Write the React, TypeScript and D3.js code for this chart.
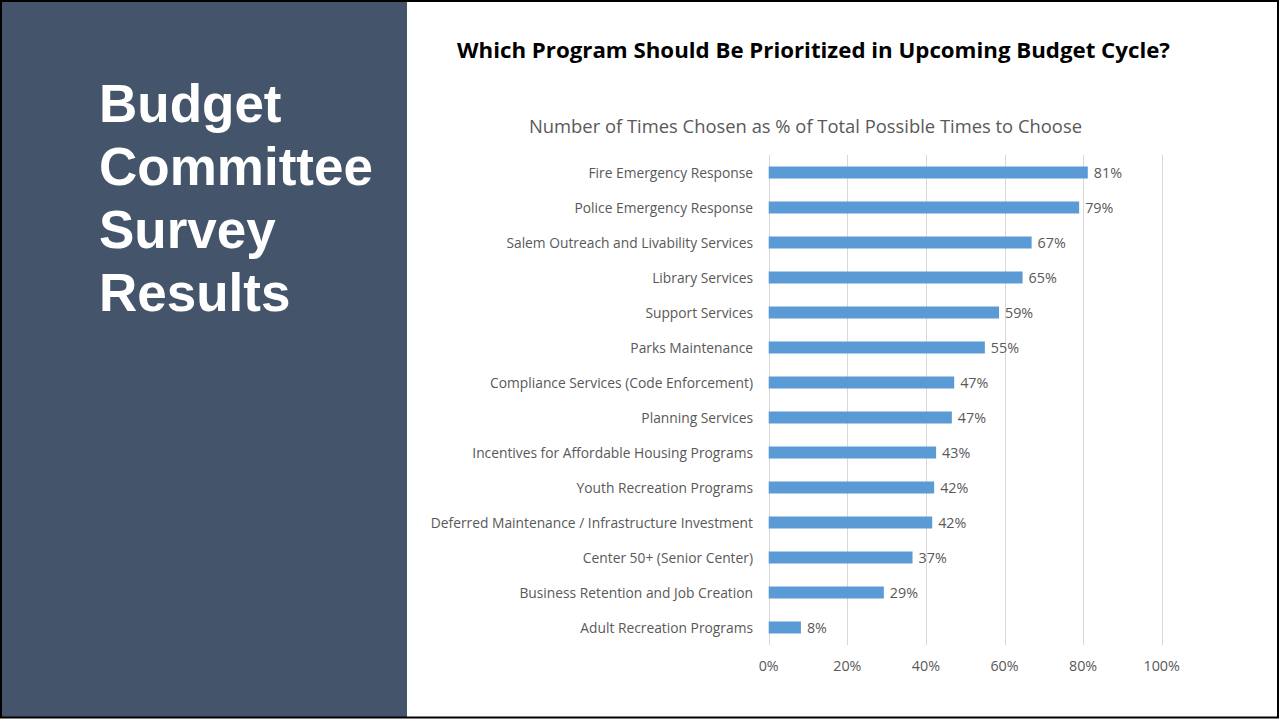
import React from "react";
import * as d3 from "d3";

const categories = [
  "Fire Emergency Response",
  "Police Emergency Response",
  "Salem Outreach and Livability Services",
  "Library Services",
  "Support Services",
  "Parks Maintenance",
  "Compliance Services (Code Enforcement)",
  "Planning Services",
  "Incentives for Affordable Housing Programs",
  "Youth Recreation Programs",
  "Deferred Maintenance / Infrastructure Investment",
  "Center 50+ (Senior Center)",
  "Business Retention and Job Creation",
  "Adult Recreation Programs",
];
const values = [0.812, 0.79, 0.669, 0.646, 0.586, 0.55, 0.472, 0.466, 0.426, 0.421, 0.416, 0.366, 0.293, 0.082];
const xTicks = [0, 0.2, 0.4, 0.6, 0.8, 1.0];
const titleLines = ["Budget", "Committee", "Survey", "Results"];
const chartTitle = "Which Program Should Be Prioritized in Upcoming Budget Cycle?";
const subTitle = "Number of Times Chosen as % of Total Possible Times to Choose";

const W = 1279;
const H = 719;
const pct = d3.format(".0%");

export default function App() {
  const x = d3.scaleLinear().domain([0, 1]).range([768.7, 1161.7]);
  const y = d3
    .scaleBand<string>()
    .domain(categories)
    .range([155, 645])
    .paddingInner(0.657)
    .paddingOuter(0.657 / 2);
  const font = "'Open Sans', 'Noto Sans', sans-serif";
  const gray = "#595959";
  return (
    <svg
      width={W}
      height={H}
      style={{ position: "fixed", top: 0, left: 0, display: "block", background: "#fff" }}
    >
      <rect x={0} y={0} width={W} height={H} fill="#fff" />
      <rect x={2} y={2} width={405} height={715} fill="#44546A" />
      <rect x={1} y={1} width={W - 2} height={H - 2.5} fill="none" stroke="#000" strokeWidth={2} />
      {titleLines.map((t, i) => (
        <text
          key={t}
          x={99}
          y={122 + i * 63}
          fill="#fff"
          fontFamily="'Liberation Sans', Arial, sans-serif"
          fontWeight="bold"
          fontSize={53}
          letterSpacing={0}
        >
          {t}
        </text>
      ))}
      <text
        x={457}
        y={58}
        fontFamily={font}
        fontWeight="bold"
        fontSize={21}
        fill="#000"
        textLength={713}
        lengthAdjust="spacingAndGlyphs"
      >
        {chartTitle}
      </text>
      <text
        x={529}
        y={133}
        fontFamily={font}
        fontSize={18}
        fill={gray}
        textLength={553}
        lengthAdjust="spacingAndGlyphs"
      >
        {subTitle}
      </text>
      {xTicks.map((t) => (
        <line
          key={"g" + t}
          x1={Math.round(x(t)) + 0.5}
          x2={Math.round(x(t)) + 0.5}
          y1={155}
          y2={645}
          stroke="#d9d9d9"
          strokeWidth={1}
        />
      ))}
      {xTicks.map((t) => (
        <text
          key={"t" + t}
          x={x(t)}
          y={671}
          textAnchor="middle"
          fontFamily={font}
          fontSize={14.3}
          fill={gray}
        >
          {pct(t)}
        </text>
      ))}
      {categories.map((c, i) => {
        const yy = y(c)!;
        const cy = yy + y.bandwidth() / 2;
        return (
          <g key={c}>
            <rect
              x={x(0)}
              y={yy}
              width={x(values[i]) - x(0)}
              height={y.bandwidth()}
              fill="#5B9BD5"
            />
            <text
              x={753}
              y={cy + 5}
              textAnchor="end"
              fontFamily={font}
              fontSize={13.8}
              fill={gray}
            >
              {c}
            </text>
            <text
              x={x(values[i]) + 6}
              y={cy + 5.5}
              fontFamily={font}
              fontSize={14.3}
              fill={gray}
            >
              {pct(values[i])}
            </text>
          </g>
        );
      })}
    </svg>
  );
}
